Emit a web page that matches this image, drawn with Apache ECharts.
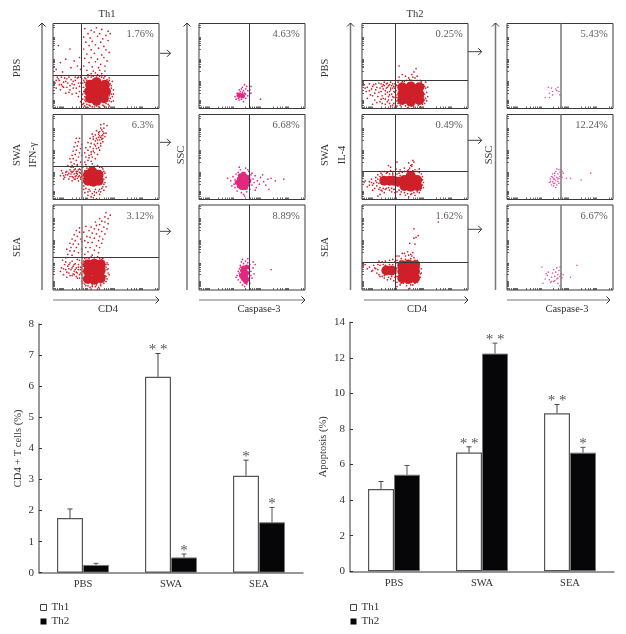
<!DOCTYPE html>
<html><head><meta charset="utf-8">
<style>html,body{margin:0;padding:0;background:#fff}#c{width:626px;height:634px}</style>
<script src="https://cdn.jsdelivr.net/npm/echarts@6/dist/echarts.min.js"></script>
</head><body><div id="c"></div>
<script>
// ---------- bar chart data ----------
const categories = ['PBS','SWA','SEA'];
const cd4Th1 = [1.76,6.3,3.12];
const cd4Th2 = [0.25,0.49,1.62];
const cd4Th1Top = [2.05,7.05,3.62];
const cd4Th2Top = [0.3,0.6,2.1];
const cd4Th1Stars = ['','**','*'];
const cd4Th2Stars = ['','*','*'];
const apoTh1 = [4.63,6.68,8.89];
const apoTh2 = [5.43,12.24,6.67];
const apoTh1Top = [5.05,7.0,9.38];
const apoTh2Top = [5.95,12.83,6.97];
const apoTh1Stars = ['','**','**'];
const apoTh2Stars = ['','**','*'];

// ---------- flow cytometry percentages ----------
const th1IfnPct = ['1.76%','6.3%','3.12%'];
const th1CasPct = ['4.63%','6.68%','8.89%'];
const th2IlPct = ['0.25%','0.49%','1.62%'];
const th2CasPct = ['5.43%','12.24%','6.67%'];
const rowNames = ['PBS','SWA','SEA'];
const scatterTicks = [2,4,6,7,8,9,10,18,22,25,27,29,30,31,32,44,48,50,52,54,55,56,57,58,70,74,77,79,81,82,83,84,96,98];

// gates: [vertical, horizontal] in percent of the plot
const th1IfnGates = [[27,39],[27,39],[27,38.5]];
const th1CasGates = [[47,null],[47,null],[47,null]];
const th2IlGates = [[31,33],[31,33],[31,33]];
const th2CasGates = [[51,null],[51,null],[51,null]];

// ---------- dots, [x%, y%] ----------
const a1Core=[[35,12],[41,9],[48,12],[34,20],[41,20],[50,20],[35,28],[41,31],[49,28],[38,15],[45,15],[38,25],[45,25]];
const a1Dots=[[30,94],[36,92],[41,95],[46,93],[52,91],[33,88],[39,90],[44,88],[50,86],[54,88],[29,84],[35,83],[42,85],[47,82],[31,78],[37,79],[45,78],[52,80],[34,74],[40,75],[48,73],[29,70],[36,69],[43,71],[50,69],[32,64],[39,65],[46,63],[53,66],[30,59],[36,60],[42,58],[48,60],[34,54],[40,55],[45,52],[51,56],[29,50],[37,49],[43,48],[49,50],[32,45],[38,44],[44,45],[36,41],[40,42],[46,41],[42,40],[33,40],[49,44],[5,74],[16,70],[25,60],[12,58],[20,56],[7,54],[23,50],[17,48],[9,43],[26,46],[3,46],[2,30],[5,35],[8,28],[11,36],[14,30],[17,34],[20,28],[23,36],[26,30],[3,24],[7,22],[10,31],[13,25],[16,22],[19,32],[22,24],[25,20],[12,18],[18,17],[24,14],[27,25],[15,37],[21,37],[6,33],[9,26],[27,35],[22,18],[16,27],[25,26],[4,37],[28,5],[30,3],[33,1],[37,2],[44,1],[49,2],[52,5],[55,8],[56,14],[54,20],[57,22],[55,27],[56,32],[53,36],[49,38],[44,38],[36,37],[30,36],[28,30],[27,16],[28,11],[29,20],[31,8],[51,9],[53,15],[52,31],[32,33],[34,4],[47,4],[41,3],[29,6],[30,14],[29,25],[30,31],[31,35],[33,37],[38,38],[41,37],[46,37],[48,36],[51,34],[53,33],[54,29],[55,24],[55,17],[54,12],[53,9],[50,6],[48,3],[43,2],[39,2],[35,3],[32,5],[30,10],[28,17],[29,33],[53,3],[26,8],[27,3],[57,9],[57,17],[3,33],[6,28],[10,25],[13,35],[18,29],[21,33],[24,30],[26,37],[19,24],[15,19],[24,37],[8,37],[12,32]];
const a2Core=[[33,22],[38,21],[43,22],[33,29],[38,28],[43,29],[37,33]];
const a2Dots=[[29,12],[33,9],[37,7],[41,8],[36,3],[39,5],[44,12],[47,15],[49,20],[50,26],[48,33],[46,38],[42,40],[37,42],[31,41],[28,38],[29,16],[27,30],[26,24],[45,9],[34,12],[40,12],[48,11],[30,8],[7,28],[9,31],[11,26],[13,33],[14,29],[15,24],[16,35],[17,30],[18,27],[19,33],[20,24],[20,30],[21,36],[22,28],[22,33],[23,25],[23,30],[24,35],[25,28],[25,32],[26,26],[26,35],[18,22],[15,31],[12,29],[24,22],[21,27],[17,38],[10,24],[8,34],[19,38],[23,40],[27,33],[14,40],[17,44],[19,48],[20,42],[16,48],[22,46],[18,52],[21,53],[24,50],[19,57],[22,58],[25,55],[20,62],[23,63],[26,60],[21,67],[24,68],[27,65],[25,72],[22,72],[26,44],[23,41],[27,52],[18,40],[30,44],[33,46],[36,45],[31,50],[34,52],[37,50],[40,48],[30,55],[33,58],[36,56],[39,55],[42,53],[31,61],[35,62],[38,60],[41,60],[44,58],[33,67],[36,66],[39,65],[42,66],[45,63],[35,72],[38,71],[41,72],[44,70],[47,68],[37,77],[40,76],[43,77],[46,75],[49,74],[41,81],[44,80],[47,80],[50,78],[45,84],[48,84],[43,79],[46,71],[38,74],[40,69],[44,75],[47,76],[51,87],[48,89],[45,88],[28,20],[29,25],[30,34],[32,37],[35,38],[39,39],[44,38],[47,36],[49,31],[48,24],[48,18],[46,13],[43,10],[39,9],[35,10],[31,13],[28,28],[50,15],[44,6],[33,5],[38,2],[41,1],[10,28],[12,32],[16,27],[18,32],[20,35],[22,31],[24,27],[26,31],[19,26],[23,33],[25,36],[27,27],[21,24],[17,33],[34,49],[36,53],[38,57],[40,63],[43,61],[45,66],[42,70],[45,73],[47,72],[48,78],[46,82],[43,73]];
const a3Core=[[33,13],[39,12],[45,14],[33,22],[39,22],[45,23],[33,30],[39,31],[45,30]];
const a3Dots=[[28,8],[31,5],[35,3],[40,4],[45,5],[48,8],[51,13],[52,20],[50,27],[51,32],[47,37],[42,39],[36,39],[30,37],[28,30],[27,18],[28,14],[37,6],[43,3],[49,17],[30,10],[50,10],[46,36],[32,38],[29,34],[52,25],[7,22],[8,26],[10,18],[11,30],[12,24],[13,15],[14,28],[15,20],[16,32],[17,24],[18,17],[19,28],[20,22],[21,31],[22,26],[22,16],[23,20],[24,30],[24,24],[25,14],[26,27],[26,20],[27,32],[18,34],[15,25],[20,18],[12,33],[9,35],[25,35],[23,36],[12,38],[14,42],[16,46],[18,41],[13,48],[17,50],[20,46],[16,55],[19,54],[22,50],[18,60],[21,58],[24,54],[20,65],[23,63],[26,60],[22,70],[25,68],[27,48],[24,44],[27,57],[25,73],[30,42],[33,45],[37,41],[31,50],[35,50],[39,47],[43,44],[33,56],[37,56],[41,52],[44,50],[35,62],[39,61],[43,58],[46,55],[37,67],[41,66],[44,63],[47,60],[39,72],[43,71],[46,69],[49,66],[41,76],[44,77],[48,74],[51,72],[46,81],[49,80],[52,78],[49,86],[52,84],[50,91],[54,88],[40,80],[44,84],[36,74],[30,58],[32,63],[34,70],[29,68],[31,75],[28,22],[29,12],[30,7],[33,5],[37,4],[41,6],[45,7],[48,11],[50,16],[51,24],[50,30],[48,34],[44,37],[39,38],[34,37],[31,35],[29,28],[53,18],[52,30],[27,10],[36,1],[42,1],[10,25],[13,21],[15,30],[18,26],[20,30],[22,21],[24,27],[26,24],[25,18],[21,24],[19,19],[16,17],[23,14],[27,26]];
const b1Core=[[38,16],[41,15]];
const b1Dots=[[34,14],[36,18],[37,12],[38,22],[39,15],[40,11],[41,19],[41,25],[42,13],[43,28],[44,17],[44,23],[45,26],[46,21],[48,22],[49,26],[36,15],[38,10],[40,17],[42,21],[37,16],[39,20],[41,15],[43,18],[35,11],[46,15],[42,8],[40,23],[38,13],[44,12],[58,11],[49,18]];
const b2Core=[[38,16],[42,14],[46,18],[38,24],[42,22],[46,26],[42,30],[36,20],[47,22],[40,19],[44,18],[40,26],[44,27],[38,20],[42,18],[44,22],[40,22],[44,14],[40,14],[39,28]];
const b2Dots=[[27,25],[30,22],[32,27],[33,18],[34,14],[35,30],[34,23],[36,10],[37,32],[39,35],[40,8],[42,6],[44,37],[45,9],[47,33],[48,12],[49,29],[50,17],[51,24],[52,20],[53,28],[54,14],[55,22],[57,18],[58,26],[61,21],[63,17],[65,24],[60,29],[66,12],[68,25],[72,22],[80,24],[38,38],[43,4],[46,35],[31,16],[50,31],[53,11]];
const b3Core=[[42,13],[44,10],[42,20],[45,20],[42,26],[45,27],[40,17],[43,15],[43,23],[44,17],[41,23],[41,16],[45,13]];
const b3Dots=[[36,17],[37,12],[38,20],[38,25],[39,9],[39,29],[40,14],[40,33],[41,6],[42,31],[43,4],[44,34],[45,7],[46,32],[47,11],[47,25],[48,30],[49,17],[49,22],[50,14],[51,33],[52,19],[37,22],[68,24],[41,36],[46,37],[39,27],[35,15],[48,8],[51,26],[53,30]];
const c1Core=[[38,10],[46,8],[54,10],[38,17],[46,17],[54,17],[38,25],[46,26],[54,25],[42,13],[50,13],[42,21],[50,21]];
const c1Dots=[[33,3],[37,2],[43,1],[49,2],[55,2],[59,6],[60,12],[61,19],[59,26],[60,31],[55,33],[50,36],[45,34],[40,32],[35,33],[32,28],[32,16],[33,9],[58,14],[47,40],[49,43],[41,38],[52,38],[35,37],[44,36],[38,40],[51,47],[35,50],[48,37],[56,30],[2,28],[5,25],[7,29],[4,20],[9,23],[11,28],[8,16],[12,18],[14,25],[16,30],[15,14],[18,20],[19,26],[21,31],[20,12],[22,17],[23,24],[24,8],[25,14],[26,20],[26,28],[27,31],[28,10],[28,17],[29,24],[30,6],[30,13],[31,19],[31,29],[17,8],[22,5],[12,10],[25,27],[23,29],[27,24],[29,4],[24,19],[20,23],[16,19],[27,3],[19,15],[10,5],[5,12],[21,27],[29,29],[30,26],[33,13],[32,21],[33,27],[34,31],[38,32],[42,33],[47,33],[52,33],[56,32],[58,28],[60,24],[59,17],[59,10],[57,5],[53,4],[47,3],[41,3],[36,4],[34,6],[61,9],[62,14],[62,25],[3,24],[7,21],[10,26],[13,22],[17,24],[18,11],[20,28],[22,21],[24,25],[25,10],[26,16],[27,22],[28,27],[29,14],[30,20],[31,24],[22,11],[26,6],[19,6],[14,7],[10,15],[24,30],[18,29],[13,29]];
const c2Core=[[40,16],[46,15],[52,16],[40,23],[46,22],[52,23],[46,28],[21,22],[26,22],[30,22],[34,21]];
const c2Dots=[[30,12],[33,9],[36,6],[41,5],[44,3],[47,7],[50,5],[54,8],[56,13],[58,20],[57,27],[54,32],[50,35],[45,37],[43,34],[38,32],[35,31],[47,41],[44,43],[49,44],[47,39],[25,40],[27,38],[32,36],[33,44],[48,46],[2,20],[5,15],[7,21],[9,24],[10,17],[12,13],[13,26],[14,20],[15,29],[16,12],[18,31],[19,10],[21,33],[23,13],[24,32],[26,11],[27,34],[29,31],[28,9],[17,6],[21,8],[15,4],[31,8],[10,11],[11,19],[13,22],[14,16],[15,24],[16,19],[17,14],[17,27],[18,11],[19,29],[20,13],[22,12],[23,31],[25,14],[26,30],[28,13],[29,29],[31,12],[33,30],[36,28],[35,11],[37,9],[40,8],[43,7],[46,6],[49,8],[52,9],[55,11],[57,17],[57,23],[56,30],[52,33],[48,34],[44,35],[40,33],[3,22],[7,17],[9,20],[36,35],[40,37],[46,40],[54,36],[58,14]];
const c3Core=[[38,14],[44,13],[50,14],[38,22],[44,22],[50,22],[38,29],[44,30],[50,29],[23,23],[28,23]];
const c3Dots=[[33,4],[37,8],[42,5],[45,2],[48,6],[52,9],[53,14],[55,19],[56,25],[54,31],[52,35],[49,38],[46,42],[41,40],[37,37],[33,35],[38,43],[43,45],[48,44],[1,28],[3,30],[5,25],[7,27],[9,22],[11,29],[13,25],[14,20],[15,30],[17,16],[16,34],[19,33],[21,14],[22,34],[24,12],[26,35],[27,13],[29,36],[30,11],[31,33],[33,40],[72,80],[49,72],[53,64],[49,61],[45,55],[50,54],[51,62],[33,9],[33,16],[33,26],[33,32],[36,34],[41,36],[46,37],[50,35],[53,33],[54,26],[55,15],[52,12],[50,8],[46,6],[42,8],[39,8],[36,6],[56,20],[10,23],[12,26],[15,24],[16,18],[17,29],[19,16],[20,30],[21,17],[22,29],[25,15],[26,30],[28,16],[29,30],[31,15],[32,20],[32,25],[35,40],[40,43],[44,41],[47,40]];
const d1Core=[];
const d1Dots=[[39,25],[42,24],[46,23],[48,25],[47,21],[43,20],[50,16],[36,13],[40,13],[43,16],[40,18],[49,20]];
const d2Core=[];
const d2Dots=[[40,20],[41,24],[42,17],[42,27],[43,21],[43,30],[44,16],[44,24],[45,28],[45,19],[46,33],[46,22],[47,26],[47,17],[48,30],[48,21],[49,35],[49,25],[50,27],[50,32],[51,35],[51,29],[52,33],[52,26],[53,31],[44,19],[46,14],[48,24],[47,36],[45,31],[41,21],[43,26],[60,25],[70,23],[79,31],[56,25],[49,19],[45,24]];
const d3Core=[];
const d3Dots=[[33,27],[36,13],[38,17],[40,12],[42,15],[43,20],[44,10],[45,16],[46,21],[47,13],[47,26],[48,18],[48,8],[49,23],[50,16],[50,27],[51,19],[52,14],[53,18],[41,9],[37,19],[39,21],[45,11],[34,8],[60,15],[66,29],[50,5],[44,24],[42,10],[48,14]];

// ---------- assembly ----------
const FONT = '"Liberation Serif","Times New Roman",serif';
const INK = '#333';
const FS = 10.5;
const rowTops = [23.5,114.5,205];
const panelH = 85, panelW = 106;
const columns = [
  {left:53, pct:th1IfnPct, gates:th1IfnGates, core:[a1Core,a2Core,a3Core], dots:[a1Dots,a2Dots,a3Dots], color:'#cf1f28', coreSize:10, dotSize:1.7, grey:[false,true,true]},
  {left:199,pct:th1CasPct, gates:th1CasGates, core:[b1Core,b2Core,b3Core], dots:[b1Dots,b2Dots,b3Dots], color:'#e5267f', coreSize:5, dotSize:1.7, grey:[false,false,false]},
  {left:362,pct:th2IlPct,  gates:th2IlGates,  core:[c1Core,c2Core,c3Core], dots:[c1Dots,c2Dots,c3Dots], color:'#cf1f28', coreSize:10, dotSize:1.7, grey:[false,false,false]},
  {left:507,pct:th2CasPct, gates:th2CasGates, core:[d1Core,d2Core,d3Core], dots:[d1Dots,d2Dots,d3Dots], color:'#ea4f9c', coreSize:5, dotSize:1.6, grey:[true,true,true]}
];
const grid=[], xAxis=[], yAxis=[], series=[];
columns.forEach(col=>{
  rowTops.forEach((top,r)=>{
    const i = grid.length;
    grid.push({left:col.left, top, width:panelW, height:panelH, show:true, borderColor:'#3a3a3a', borderWidth:1, backgroundColor:'#fff'});
    const ax = {gridIndex:i, type:'value', min:0, max:100, axisLine:{show:false}, axisLabel:{show:false}, splitLine:{show:false},
      axisTick:{show:true, inside:true, length:2, customValues:scatterTicks, lineStyle:{color:'#444', width:0.8}}};
    xAxis.push(ax); yAxis.push({...ax});
    const [vx,hy] = col.gates[r];
    const gateData = [{xAxis:vx, lineStyle:{type:'solid', color:col.grey[r]?'#777':'#3a3a3a', width:col.grey[r]?1.5:1}}];
    if(hy!==null) gateData.push({yAxis:hy, lineStyle:{type:'solid', color:'#3a3a3a', width:1}});
    series.push({type:'scatter', xAxisIndex:i, yAxisIndex:i, data:col.dots[r], symbolSize:col.dotSize, itemStyle:{color:col.color, opacity:1}, silent:true, z:2,
      markLine:{silent:true, symbol:'none', label:{show:false}, animation:false, data:gateData, z:5}});
    series.push({type:'scatter', xAxisIndex:i, yAxisIndex:i, data:col.core[r], symbolSize:col.coreSize, itemStyle:{color:col.color, opacity:1}, silent:true, z:2});
    series.push({type:'scatter', xAxisIndex:i, yAxisIndex:i, data:[[95,87]], symbolSize:0, silent:true, z:6,
      label:{show:true, position:'left', distance:0, formatter:col.pct[r], fontFamily:FONT, fontSize:FS, color:INK}});
  });
});

const barVals = {};
function errSeries(name, gi, barW, side, color, tops, stars){
  return {type:'custom', name:name+' error', xAxisIndex:gi, yAxisIndex:gi, z:4, silent:true,
    data: tops.map((t,k)=>[k,t]),
    renderItem(params, api){
      const k = api.value(0), top = api.coord([k,api.value(1)]);
      const vals = side<0 ? barVals[gi][0] : barVals[gi][1];
      const base = api.coord([k, vals[k]]);
      const x = top[0] + side*barW/2;
      const st = {stroke:color, lineWidth:1};
      const kids = [
        {type:'line', shape:{x1:x,y1:base[1],x2:x,y2:top[1]}, style:st},
        {type:'line', shape:{x1:x-2.5,y1:top[1],x2:x+2.5,y2:top[1]}, style:st}
      ];
      const s = stars[k];
      if(s) kids.push({type:'text', style:{text:s.split('').join(' '), x, y:top[1]-3, align:'center', verticalAlign:'middle', fontFamily:FONT, fontSize:15, fill:'#555'}});
      return {type:'group', children:kids};
    }};
}
function addBars(box, maxV, step, th1, th2, t1, t2, s1, s2, yName, gap){
  const gi = grid.length;
  barVals[gi] = [th1,th2];
  grid.push({left:box.left, top:box.top, width:box.width, height:box.height});
  xAxis.push({gridIndex:gi, type:'category', data:categories,
    axisLine:{lineStyle:{color:'#777', width:1.5}},
    axisTick:{inside:true, length:3, alignWithLabel:false, lineStyle:{color:'#333'}},
    axisLabel:{fontFamily:FONT, fontSize:FS, color:INK, margin:6}});
  yAxis.push({gridIndex:gi, type:'value', min:0, max:maxV, interval:step,
    name:yName, nameLocation:'middle', nameGap:gap, nameTextStyle:{fontFamily:FONT, fontSize:FS, color:INK},
    axisLine:{show:true, lineStyle:{color:'#777', width:1.5}},
    axisTick:{show:true, inside:true, length:3, lineStyle:{color:'#333'}},
    splitLine:{show:false},
    axisLabel:{fontFamily:FONT, fontSize:FS+0.5, color:INK, margin:5}});
  const w = 26;
  series.push({type:'bar', name:'Th1', xAxisIndex:gi, yAxisIndex:gi, data:th1, barWidth:w, barGap:0, z:3, silent:true,
    itemStyle:{color:'#fff', borderColor:'#555', borderWidth:1.2}});
  series.push({type:'bar', name:'Th2', xAxisIndex:gi, yAxisIndex:gi, data:th2, barWidth:w, barGap:0, z:3, silent:true,
    itemStyle:{color:'#060608', borderColor:'#777', borderWidth:1}});
  series.push(errSeries('Th1', gi, w, -1, '#444', t1, s1));
  series.push(errSeries('Th2', gi, w, 1, '#555', t2, s2));
}
addBars({left:39, top:324, width:264, height:248.7}, 8, 1, cd4Th1, cd4Th2, cd4Th1Top, cd4Th2Top, cd4Th1Stars, cd4Th2Stars, 'CD4 + T cells (%)', 15);
addBars({left:350, top:322.3, width:264, height:249}, 14, 2, apoTh1, apoTh2, apoTh1Top, apoTh2Top, apoTh1Stars, apoTh2Stars, 'Apoptosis (%)', 21);

// ---------- decorations ----------
const gfx = [];
function text(t,x,y,rot){ gfx.push({type:'text', x, y, rotation:rot?Math.PI/2:0, style:{text:t, align:'center', verticalAlign:'middle', fontFamily:FONT, fontSize:FS, fill:INK}}); }
function arrow(x1,y1,x2,y2,color,w){
  gfx.push({type:'line', shape:{x1,y1,x2,y2}, style:{stroke:color,lineWidth:w}});
  const dx=Math.sign(x2-x1), dy=Math.sign(y2-y1), h=3.5;
  gfx.push({type:'polyline', shape:{points:[[x2-dx*h-(dy?h:0),y2-dy*h-(dx?h:0)],[x2,y2],[x2-dx*h+(dy?h:0),y2-dy*h+(dx?h:0)]]}, style:{stroke:'#333',lineWidth:1,fill:'none'}});
}
text('Th1',107,14); text('Th2',415,14);
[42,187,350.5,495.5].forEach(x=>arrow(x,290,x,23,'#777',1.5));
[[53,159],[199,305],[364,468],[507,610]].forEach(([a,b])=>arrow(a,300,b,300,'#777',1));
[53.3,142.3,231.3].forEach(y=>arrow(160,y,170.5,y,'#444',1));
[51.7,140.3,229.3].forEach(y=>arrow(468,y,481.7,y,'#444',1));
rowNames.forEach((n,i)=>{ const y=[68,155,247][i]; text(n,17,y,true); text(n,325,y,true); });
text('IFN-γ',33,155,true); text('SSC',181,155,true); text('IL-4',342,155,true); text('SSC',489,155,true);
text('CD4',108,309); text('Caspase-3',259,309); text('CD4',417,309); text('Caspase-3',567,309);

const legendBase = {orient:'vertical', height:32, padding:0, itemWidth:6, itemHeight:6, itemGap:3, icon:'rect', selectedMode:false,
  data:[{name:'Th1', itemStyle:{color:'#fff', borderColor:'#444', borderWidth:1}},{name:'Th2', itemStyle:{color:'#000', borderColor:'#000', borderWidth:0}}],
  textStyle:{fontFamily:FONT, fontSize:FS+0.5, color:INK}};
const chart = echarts.init(document.getElementById('c'), null, {renderer:'canvas'});
chart.setOption({animation:false, backgroundColor:'#fff', grid, xAxis, yAxis, series, graphic:gfx,
  legend:[{...legendBase, left:40, top:602},{...legendBase, left:350, top:602}]});
</script></body></html>
